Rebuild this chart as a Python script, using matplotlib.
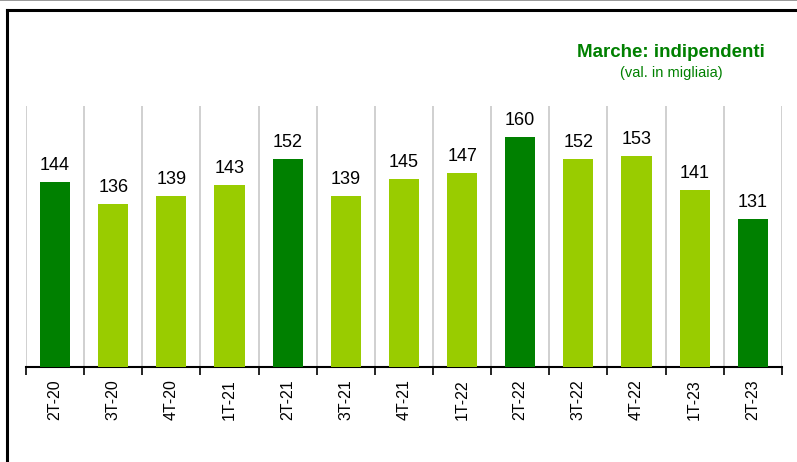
import matplotlib.pyplot as plt
import numpy as np
from matplotlib.lines import Line2D

plt.rcParams['font.family'] = ['Liberation Sans', 'DejaVu Sans']

categories = ['2T-20', '3T-20', '4T-20', '1T-21', '2T-21', '3T-21', '4T-21',
              '1T-22', '2T-22', '3T-22', '4T-22', '1T-23', '2T-23']
values = [144, 136, 139, 143, 152, 139, 145, 147, 160, 152, 153, 141, 131]

dark = '#008000'
light = '#99CC00'
colors = [dark if c.startswith('2T') else light for c in categories]

fig = plt.figure(figsize=(7.97, 4.62), dpi=100)
ax = fig.add_axes([0.0326, 0.2056, 0.9484, 0.565])

x = np.arange(len(categories))
ax.bar(x, values, width=0.52, color=colors, zorder=3)
for xi, v in zip(x, values):
    ax.text(xi, v + 2.8, str(v), ha='center', va='bottom', fontsize=13, color='#000000')

ax.set_xlim(-0.5, len(categories) - 0.5)
ax.set_ylim(78.5, 170.8)

# vertical gridlines between categories
bounds = np.arange(len(categories) + 1) - 0.5
for b in bounds:
    ax.axvline(b, color='#c8c8c8', lw=1.2, zorder=1)

ax.set_xticks(bounds, minor=True)
ax.tick_params(axis='x', which='minor', length=6, width=1.2, color='black')
ax.set_xticks(x)
ax.set_xticklabels(categories, rotation=90, fontsize=11.5)
ax.tick_params(axis='x', which='major', length=0, pad=9)
ax.set_yticks([])
for s in ['top', 'right', 'left']:
    ax.spines[s].set_visible(False)
ax.spines['bottom'].set_linewidth(1.5)

fig.text(0.842, 0.887, 'Marche: indipendenti', ha='center', va='center',
         fontsize=13.5, fontweight='bold', color=dark)
fig.text(0.842, 0.843, '(val. in migliaia)', ha='center', va='center',
         fontsize=10.5, color=dark)

# frame
fig.add_artist(Line2D([0.009, 1.0], [0.978, 0.978], color='black', lw=2.2,
                      transform=fig.transFigure))
fig.add_artist(Line2D([0.009, 0.009], [0.0, 0.978], color='black', lw=2.2,
                      transform=fig.transFigure))
fig.add_artist(Line2D([0.0, 1.0], [0.999, 0.999], color='#888888', lw=1.2,
                      transform=fig.transFigure))

fig.savefig('out.png', dpi=100)
